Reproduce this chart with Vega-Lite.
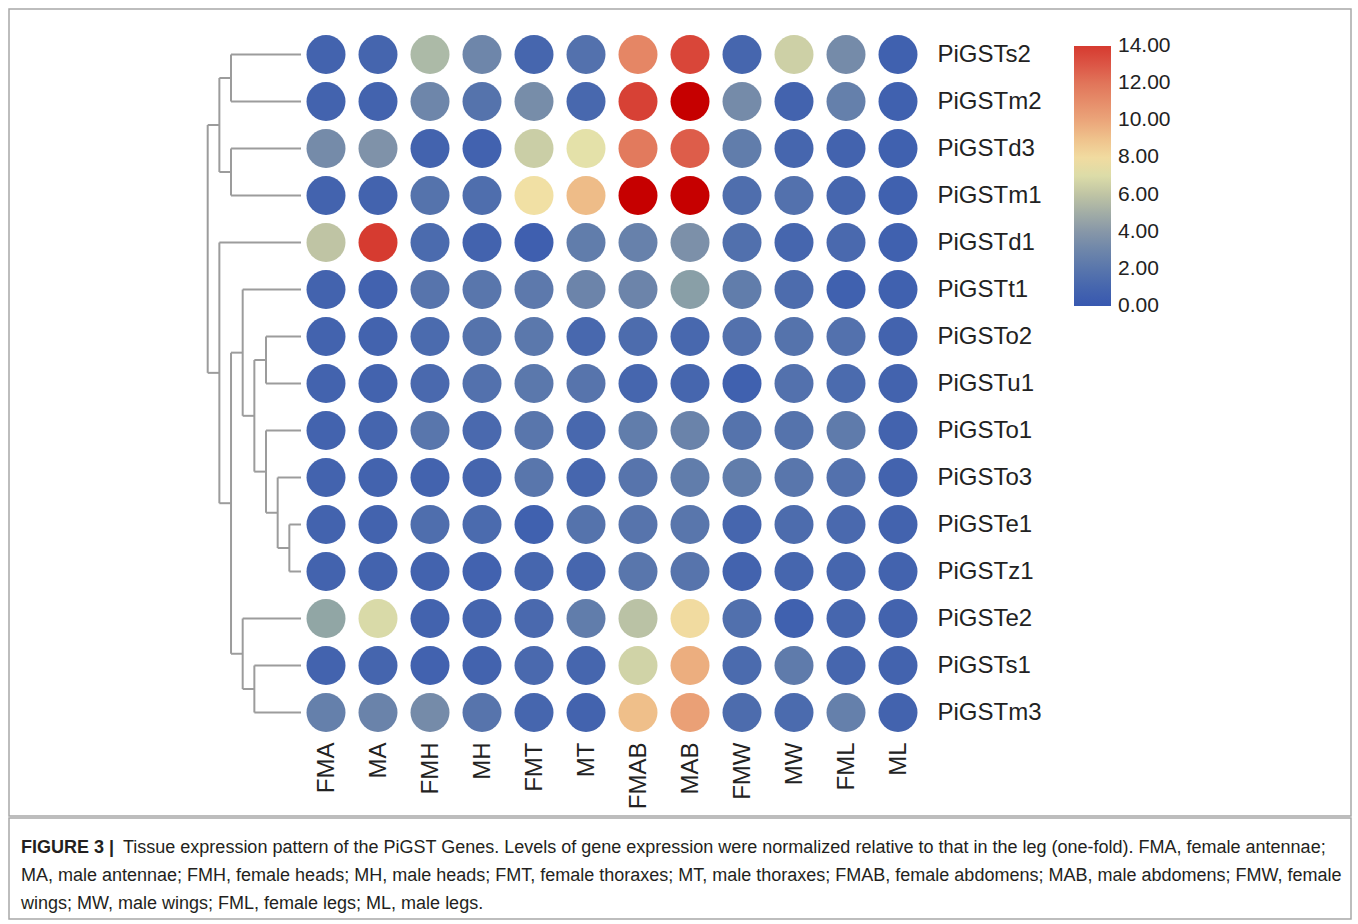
{
  "$schema": "https://vega.github.io/schema/vega-lite/v6.json",
  "padding": {"left": 8, "top": 8, "right": 0, "bottom": 0},
  "background": "white",
  "spacing": 0,
  "config": {
    "view": {"stroke": "#a8a8a8", "strokeWidth": 1.5},
    "font": "Liberation Sans"
  },
  "datasets": {
    "dendro": [
      {"x1": 0, "x2": 6, "y1": 0.5, "y2": 0.5},
      {"x1": 0, "x2": 6, "y1": 1.5, "y2": 1.5},
      {"x1": 0, "x2": 6, "y1": 2.5, "y2": 2.5},
      {"x1": 0, "x2": 6, "y1": 3.5, "y2": 3.5},
      {"x1": 0, "x2": 7, "y1": 4.5, "y2": 4.5},
      {"x1": 0, "x2": 5, "y1": 5.5, "y2": 5.5},
      {"x1": 0, "x2": 3, "y1": 6.5, "y2": 6.5},
      {"x1": 0, "x2": 3, "y1": 7.5, "y2": 7.5},
      {"x1": 0, "x2": 3, "y1": 8.5, "y2": 8.5},
      {"x1": 0, "x2": 2, "y1": 9.5, "y2": 9.5},
      {"x1": 0, "x2": 1, "y1": 10.5, "y2": 10.5},
      {"x1": 0, "x2": 1, "y1": 11.5, "y2": 11.5},
      {"x1": 0, "x2": 5, "y1": 12.5, "y2": 12.5},
      {"x1": 0, "x2": 4, "y1": 13.5, "y2": 13.5},
      {"x1": 0, "x2": 4, "y1": 14.5, "y2": 14.5},
      {"x1": 6, "x2": 7, "y1": 1.0, "y2": 1.0},
      {"x1": 6, "x2": 7, "y1": 3.0, "y2": 3.0},
      {"x1": 7, "x2": 8, "y1": 2.0, "y2": 2.0},
      {"x1": 1, "x2": 2, "y1": 11.0, "y2": 11.0},
      {"x1": 2, "x2": 3, "y1": 10.25, "y2": 10.25},
      {"x1": 3, "x2": 4, "y1": 9.375, "y2": 9.375},
      {"x1": 3, "x2": 4, "y1": 7.0, "y2": 7.0},
      {"x1": 4, "x2": 5, "y1": 8.1875, "y2": 8.1875},
      {"x1": 5, "x2": 6, "y1": 6.84375, "y2": 6.84375},
      {"x1": 4, "x2": 5, "y1": 14.0, "y2": 14.0},
      {"x1": 5, "x2": 6, "y1": 13.25, "y2": 13.25},
      {"x1": 6, "x2": 7, "y1": 10.046875, "y2": 10.046875},
      {"x1": 7, "x2": 8, "y1": 7.2734375, "y2": 7.2734375},
      {"x1": 6, "x2": 6, "y1": 0.5, "y2": 1.5},
      {"x1": 6, "x2": 6, "y1": 2.5, "y2": 3.5},
      {"x1": 7, "x2": 7, "y1": 1.0, "y2": 3.0},
      {"x1": 1, "x2": 1, "y1": 10.5, "y2": 11.5},
      {"x1": 2, "x2": 2, "y1": 9.5, "y2": 11.0},
      {"x1": 3, "x2": 3, "y1": 8.5, "y2": 10.25},
      {"x1": 3, "x2": 3, "y1": 6.5, "y2": 7.5},
      {"x1": 4, "x2": 4, "y1": 7.0, "y2": 9.375},
      {"x1": 5, "x2": 5, "y1": 5.5, "y2": 8.1875},
      {"x1": 4, "x2": 4, "y1": 13.5, "y2": 14.5},
      {"x1": 5, "x2": 5, "y1": 12.5, "y2": 14.0},
      {"x1": 6, "x2": 6, "y1": 6.84375, "y2": 13.25},
      {"x1": 7, "x2": 7, "y1": 4.5, "y2": 10.046875},
      {"x1": 8, "x2": 8, "y1": 2.0, "y2": 7.2734375}
    ],
    "expr": [
      {"gene": "PiGSTs2", "tissue": "FMA", "value": 0.8},
      {"gene": "PiGSTs2", "tissue": "MA", "value": 0.9},
      {"gene": "PiGSTs2", "tissue": "FMH", "value": 5.5},
      {"gene": "PiGSTs2", "tissue": "MH", "value": 3.0},
      {"gene": "PiGSTs2", "tissue": "FMT", "value": 1.0},
      {"gene": "PiGSTs2", "tissue": "MT", "value": 1.7},
      {"gene": "PiGSTs2", "tissue": "FMAB", "value": 11.3},
      {"gene": "PiGSTs2", "tissue": "MAB", "value": 13.6},
      {"gene": "PiGSTs2", "tissue": "FMW", "value": 1.0},
      {"gene": "PiGSTs2", "tissue": "MW", "value": 6.5},
      {"gene": "PiGSTs2", "tissue": "FML", "value": 3.3},
      {"gene": "PiGSTs2", "tissue": "ML", "value": 0.6},
      {"gene": "PiGSTm2", "tissue": "FMA", "value": 0.8},
      {"gene": "PiGSTm2", "tissue": "MA", "value": 0.8},
      {"gene": "PiGSTm2", "tissue": "FMH", "value": 3.0},
      {"gene": "PiGSTm2", "tissue": "MH", "value": 1.8},
      {"gene": "PiGSTm2", "tissue": "FMT", "value": 3.4},
      {"gene": "PiGSTm2", "tissue": "MT", "value": 1.1},
      {"gene": "PiGSTm2", "tissue": "FMAB", "value": 13.8},
      {"gene": "PiGSTm2", "tissue": "MAB", "value": 16.0},
      {"gene": "PiGSTm2", "tissue": "FMW", "value": 3.3},
      {"gene": "PiGSTm2", "tissue": "MW", "value": 0.8},
      {"gene": "PiGSTm2", "tissue": "FML", "value": 2.6},
      {"gene": "PiGSTm2", "tissue": "ML", "value": 0.6},
      {"gene": "PiGSTd3", "tissue": "FMA", "value": 3.3},
      {"gene": "PiGSTd3", "tissue": "MA", "value": 3.7},
      {"gene": "PiGSTd3", "tissue": "FMH", "value": 0.8},
      {"gene": "PiGSTd3", "tissue": "MH", "value": 0.7},
      {"gene": "PiGSTd3", "tissue": "FMT", "value": 6.4},
      {"gene": "PiGSTd3", "tissue": "MT", "value": 7.2},
      {"gene": "PiGSTd3", "tissue": "FMAB", "value": 11.8},
      {"gene": "PiGSTd3", "tissue": "MAB", "value": 12.8},
      {"gene": "PiGSTd3", "tissue": "FMW", "value": 2.4},
      {"gene": "PiGSTd3", "tissue": "MW", "value": 1.0},
      {"gene": "PiGSTd3", "tissue": "FML", "value": 0.8},
      {"gene": "PiGSTd3", "tissue": "ML", "value": 0.6},
      {"gene": "PiGSTm1", "tissue": "FMA", "value": 0.8},
      {"gene": "PiGSTm1", "tissue": "MA", "value": 0.8},
      {"gene": "PiGSTm1", "tissue": "FMH", "value": 1.8},
      {"gene": "PiGSTm1", "tissue": "MH", "value": 1.5},
      {"gene": "PiGSTm1", "tissue": "FMT", "value": 7.8},
      {"gene": "PiGSTm1", "tissue": "MT", "value": 9.2},
      {"gene": "PiGSTm1", "tissue": "FMAB", "value": 16.5},
      {"gene": "PiGSTm1", "tissue": "MAB", "value": 15.5},
      {"gene": "PiGSTm1", "tissue": "FMW", "value": 1.5},
      {"gene": "PiGSTm1", "tissue": "MW", "value": 1.7},
      {"gene": "PiGSTm1", "tissue": "FML", "value": 1.0},
      {"gene": "PiGSTm1", "tissue": "ML", "value": 0.6},
      {"gene": "PiGSTd1", "tissue": "FMA", "value": 6.0},
      {"gene": "PiGSTd1", "tissue": "MA", "value": 14.0},
      {"gene": "PiGSTd1", "tissue": "FMH", "value": 1.3},
      {"gene": "PiGSTd1", "tissue": "MH", "value": 0.8},
      {"gene": "PiGSTd1", "tissue": "FMT", "value": 0.5},
      {"gene": "PiGSTd1", "tissue": "MT", "value": 2.4},
      {"gene": "PiGSTd1", "tissue": "FMAB", "value": 2.7},
      {"gene": "PiGSTd1", "tissue": "MAB", "value": 3.6},
      {"gene": "PiGSTd1", "tissue": "FMW", "value": 1.6},
      {"gene": "PiGSTd1", "tissue": "MW", "value": 1.0},
      {"gene": "PiGSTd1", "tissue": "FML", "value": 1.2},
      {"gene": "PiGSTd1", "tissue": "ML", "value": 0.6},
      {"gene": "PiGSTt1", "tissue": "FMA", "value": 0.8},
      {"gene": "PiGSTt1", "tissue": "MA", "value": 0.7},
      {"gene": "PiGSTt1", "tissue": "FMH", "value": 1.9},
      {"gene": "PiGSTt1", "tissue": "MH", "value": 2.0},
      {"gene": "PiGSTt1", "tissue": "FMT", "value": 2.2},
      {"gene": "PiGSTt1", "tissue": "MT", "value": 2.9},
      {"gene": "PiGSTt1", "tissue": "FMAB", "value": 2.9},
      {"gene": "PiGSTt1", "tissue": "MAB", "value": 4.3},
      {"gene": "PiGSTt1", "tissue": "FMW", "value": 2.4},
      {"gene": "PiGSTt1", "tissue": "MW", "value": 1.4},
      {"gene": "PiGSTt1", "tissue": "FML", "value": 0.6},
      {"gene": "PiGSTt1", "tissue": "ML", "value": 0.6},
      {"gene": "PiGSTo2", "tissue": "FMA", "value": 0.8},
      {"gene": "PiGSTo2", "tissue": "MA", "value": 0.8},
      {"gene": "PiGSTo2", "tissue": "FMH", "value": 1.3},
      {"gene": "PiGSTo2", "tissue": "MH", "value": 1.8},
      {"gene": "PiGSTo2", "tissue": "FMT", "value": 2.1},
      {"gene": "PiGSTo2", "tissue": "MT", "value": 1.1},
      {"gene": "PiGSTo2", "tissue": "FMAB", "value": 1.4},
      {"gene": "PiGSTo2", "tissue": "MAB", "value": 1.1},
      {"gene": "PiGSTo2", "tissue": "FMW", "value": 1.7},
      {"gene": "PiGSTo2", "tissue": "MW", "value": 1.8},
      {"gene": "PiGSTo2", "tissue": "FML", "value": 1.7},
      {"gene": "PiGSTo2", "tissue": "ML", "value": 0.8},
      {"gene": "PiGSTu1", "tissue": "FMA", "value": 0.8},
      {"gene": "PiGSTu1", "tissue": "MA", "value": 0.8},
      {"gene": "PiGSTu1", "tissue": "FMH", "value": 1.2},
      {"gene": "PiGSTu1", "tissue": "MH", "value": 1.7},
      {"gene": "PiGSTu1", "tissue": "FMT", "value": 2.1},
      {"gene": "PiGSTu1", "tissue": "MT", "value": 1.9},
      {"gene": "PiGSTu1", "tissue": "FMAB", "value": 1.0},
      {"gene": "PiGSTu1", "tissue": "MAB", "value": 1.0},
      {"gene": "PiGSTu1", "tissue": "FMW", "value": 0.6},
      {"gene": "PiGSTu1", "tissue": "MW", "value": 1.7},
      {"gene": "PiGSTu1", "tissue": "FML", "value": 1.3},
      {"gene": "PiGSTu1", "tissue": "ML", "value": 0.8},
      {"gene": "PiGSTo1", "tissue": "FMA", "value": 0.8},
      {"gene": "PiGSTo1", "tissue": "MA", "value": 0.9},
      {"gene": "PiGSTo1", "tissue": "FMH", "value": 2.0},
      {"gene": "PiGSTo1", "tissue": "MH", "value": 1.2},
      {"gene": "PiGSTo1", "tissue": "FMT", "value": 2.0},
      {"gene": "PiGSTo1", "tissue": "MT", "value": 1.1},
      {"gene": "PiGSTo1", "tissue": "FMAB", "value": 2.4},
      {"gene": "PiGSTo1", "tissue": "MAB", "value": 2.8},
      {"gene": "PiGSTo1", "tissue": "FMW", "value": 1.8},
      {"gene": "PiGSTo1", "tissue": "MW", "value": 1.8},
      {"gene": "PiGSTo1", "tissue": "FML", "value": 2.3},
      {"gene": "PiGSTo1", "tissue": "ML", "value": 0.8},
      {"gene": "PiGSTo3", "tissue": "FMA", "value": 0.8},
      {"gene": "PiGSTo3", "tissue": "MA", "value": 0.8},
      {"gene": "PiGSTo3", "tissue": "FMH", "value": 0.8},
      {"gene": "PiGSTo3", "tissue": "MH", "value": 0.9},
      {"gene": "PiGSTo3", "tissue": "FMT", "value": 2.0},
      {"gene": "PiGSTo3", "tissue": "MT", "value": 1.0},
      {"gene": "PiGSTo3", "tissue": "FMAB", "value": 1.9},
      {"gene": "PiGSTo3", "tissue": "MAB", "value": 2.4},
      {"gene": "PiGSTo3", "tissue": "FMW", "value": 2.4},
      {"gene": "PiGSTo3", "tissue": "MW", "value": 2.0},
      {"gene": "PiGSTo3", "tissue": "FML", "value": 1.7},
      {"gene": "PiGSTo3", "tissue": "ML", "value": 0.8},
      {"gene": "PiGSTe1", "tissue": "FMA", "value": 0.8},
      {"gene": "PiGSTe1", "tissue": "MA", "value": 0.8},
      {"gene": "PiGSTe1", "tissue": "FMH", "value": 1.5},
      {"gene": "PiGSTe1", "tissue": "MH", "value": 1.3},
      {"gene": "PiGSTe1", "tissue": "FMT", "value": 0.6},
      {"gene": "PiGSTe1", "tissue": "MT", "value": 1.8},
      {"gene": "PiGSTe1", "tissue": "FMAB", "value": 1.9},
      {"gene": "PiGSTe1", "tissue": "MAB", "value": 2.0},
      {"gene": "PiGSTe1", "tissue": "FMW", "value": 1.0},
      {"gene": "PiGSTe1", "tissue": "MW", "value": 1.4},
      {"gene": "PiGSTe1", "tissue": "FML", "value": 1.2},
      {"gene": "PiGSTe1", "tissue": "ML", "value": 0.8},
      {"gene": "PiGSTz1", "tissue": "FMA", "value": 0.8},
      {"gene": "PiGSTz1", "tissue": "MA", "value": 0.8},
      {"gene": "PiGSTz1", "tissue": "FMH", "value": 0.8},
      {"gene": "PiGSTz1", "tissue": "MH", "value": 0.7},
      {"gene": "PiGSTz1", "tissue": "FMT", "value": 1.0},
      {"gene": "PiGSTz1", "tissue": "MT", "value": 1.0},
      {"gene": "PiGSTz1", "tissue": "FMAB", "value": 2.0},
      {"gene": "PiGSTz1", "tissue": "MAB", "value": 1.9},
      {"gene": "PiGSTz1", "tissue": "FMW", "value": 0.8},
      {"gene": "PiGSTz1", "tissue": "MW", "value": 1.0},
      {"gene": "PiGSTz1", "tissue": "FML", "value": 1.0},
      {"gene": "PiGSTz1", "tissue": "ML", "value": 0.8},
      {"gene": "PiGSTe2", "tissue": "FMA", "value": 4.6},
      {"gene": "PiGSTe2", "tissue": "MA", "value": 6.9},
      {"gene": "PiGSTe2", "tissue": "FMH", "value": 0.8},
      {"gene": "PiGSTe2", "tissue": "MH", "value": 0.9},
      {"gene": "PiGSTe2", "tissue": "FMT", "value": 1.2},
      {"gene": "PiGSTe2", "tissue": "MT", "value": 2.4},
      {"gene": "PiGSTe2", "tissue": "FMAB", "value": 5.9},
      {"gene": "PiGSTe2", "tissue": "MAB", "value": 8.0},
      {"gene": "PiGSTe2", "tissue": "FMW", "value": 1.6},
      {"gene": "PiGSTe2", "tissue": "MW", "value": 0.6},
      {"gene": "PiGSTe2", "tissue": "FML", "value": 1.0},
      {"gene": "PiGSTe2", "tissue": "ML", "value": 0.8},
      {"gene": "PiGSTs1", "tissue": "FMA", "value": 0.8},
      {"gene": "PiGSTs1", "tissue": "MA", "value": 0.9},
      {"gene": "PiGSTs1", "tissue": "FMH", "value": 0.7},
      {"gene": "PiGSTs1", "tissue": "MH", "value": 0.8},
      {"gene": "PiGSTs1", "tissue": "FMT", "value": 1.2},
      {"gene": "PiGSTs1", "tissue": "MT", "value": 1.0},
      {"gene": "PiGSTs1", "tissue": "FMAB", "value": 6.6},
      {"gene": "PiGSTs1", "tissue": "MAB", "value": 9.7},
      {"gene": "PiGSTs1", "tissue": "FMW", "value": 1.3},
      {"gene": "PiGSTs1", "tissue": "MW", "value": 2.3},
      {"gene": "PiGSTs1", "tissue": "FML", "value": 1.0},
      {"gene": "PiGSTs1", "tissue": "ML", "value": 0.8},
      {"gene": "PiGSTm3", "tissue": "FMA", "value": 2.6},
      {"gene": "PiGSTm3", "tissue": "MA", "value": 2.8},
      {"gene": "PiGSTm3", "tissue": "FMH", "value": 3.3},
      {"gene": "PiGSTm3", "tissue": "MH", "value": 1.9},
      {"gene": "PiGSTm3", "tissue": "FMT", "value": 1.0},
      {"gene": "PiGSTm3", "tissue": "MT", "value": 0.8},
      {"gene": "PiGSTm3", "tissue": "FMAB", "value": 9.1},
      {"gene": "PiGSTm3", "tissue": "MAB", "value": 10.2},
      {"gene": "PiGSTm3", "tissue": "FMW", "value": 1.4},
      {"gene": "PiGSTm3", "tissue": "MW", "value": 1.3},
      {"gene": "PiGSTm3", "tissue": "FML", "value": 2.6},
      {"gene": "PiGSTm3", "tissue": "ML", "value": 0.8}
    ],
    "caption": [
      {"line": 1, "part": "bold", "text": "FIGURE 3 |"},
      {"line": 1, "part": "rest", "text": "Tissue expression pattern of the PiGST Genes. Levels of gene expression were normalized relative to that in the leg (one-fold). FMA, female antennae;"},
      {"line": 2, "part": "body", "text": "MA, male antennae; FMH, female heads; MH, male heads; FMT, female thoraxes; MT, male thoraxes; FMAB, female abdomens; MAB, male abdomens; FMW, female"},
      {"line": 3, "part": "body", "text": "wings; MW, male wings; FML, female legs; ML, male legs."}
    ]
  },
  "vconcat": [
    {
      "width": 1342,
      "height": 807,
      "resolve": {"scale": {"x": "independent", "y": "independent"}, "axis": {"x": "independent", "y": "independent"}},
      "layer": [
        {
          "data": {"name": "dendro"},
          "mark": {"type": "rule", "color": "#9c9c9c", "strokeWidth": 2},
          "encoding": {
            "x": {"field": "x1", "type": "quantitative", "scale": {"domain": [0, 8], "range": [292, 198.7], "nice": false, "zero": false}, "axis": null},
            "x2": {"field": "x2"},
            "y": {"field": "y1", "type": "quantitative", "scale": {"domain": [0, 15], "range": [22, 727], "nice": false, "zero": false}, "axis": null},
            "y2": {"field": "y2"}
          }
        },
        {
          "data": {"name": "expr"},
          "mark": {"type": "circle", "size": 1520, "opacity": 1},
          "encoding": {
            "x": {
              "field": "tissue", "type": "nominal",
              "sort": ["FMA", "MA", "FMH", "MH", "FMT", "MT", "FMAB", "MAB", "FMW", "MW", "FML", "ML"],
              "scale": {"type": "point", "range": [291, 915], "padding": 0.5},
              "axis": {"orient": "bottom", "offset": -74, "title": null, "labelAngle": -90, "labelFont": "Liberation Sans", "labelFontSize": 24, "labelColor": "#222222", "labelPadding": 0, "ticks": false, "tickSize": 0, "domain": false, "grid": false}
            },
            "y": {
              "field": "gene", "type": "nominal",
              "sort": ["PiGSTs2", "PiGSTm2", "PiGSTd3", "PiGSTm1", "PiGSTd1", "PiGSTt1", "PiGSTo2", "PiGSTu1", "PiGSTo1", "PiGSTo3", "PiGSTe1", "PiGSTz1", "PiGSTe2", "PiGSTs1", "PiGSTm3"],
              "scale": {"type": "point", "range": [22, 727], "padding": 0.5},
              "axis": {"orient": "right", "offset": -414, "title": null, "labelFont": "Liberation Sans", "labelFontSize": 24, "labelColor": "#222222", "labelPadding": 0, "ticks": false, "tickSize": 0, "domain": false, "grid": false}
            },
            "color": {
              "condition": {"test": "datum.value > 14", "value": "#c60000"},
              "field": "value", "type": "quantitative",
              "scale": {
                "domain": [-0.02, 1, 2, 3, 4, 5, 6, 7, 7.5, 8, 9, 10, 11, 12, 13, 14.02],
                "range": ["#3858b0", "#4666ae", "#5976ac", "#6e86aa", "#8797a8", "#a2ada6", "#bfc4a4", "#dcdca8", "#f0e8aa", "#f1dba0", "#efc28c", "#eba57a", "#e68d6a", "#e1755a", "#dc5646", "#d63a30"],
                "clamp": true
              },
              "legend": {
                "orient": "none", "legendX": 1065, "legendY": 37, "direction": "vertical",
                "gradientLength": 260, "gradientThickness": 37, "gradientStrokeWidth": 0,
                "title": null, "values": [0, 2, 4, 6, 8, 10, 12, 14], "format": ".2f",
                "labelFont": "Liberation Sans", "labelFontSize": 21, "labelColor": "#222222", "labelOffset": 7, "labelBaseline": "middle", "labelOverlap": false, "padding": 0
              }
            }
          }
        }
      ]
    },
    {
      "width": 1342,
      "height": 101,
      "data": {"name": "caption"},
      "encoding": {
        "y": {"field": "line", "type": "ordinal", "scale": {"type": "point", "range": [30, 86], "padding": 0}, "axis": null},
        "text": {"field": "text"}
      },
      "layer": [
        {
          "transform": [{"filter": "datum.part === 'bold'"}],
          "mark": {"type": "text", "align": "left", "baseline": "middle", "font": "Liberation Sans", "fontSize": 18, "fontWeight": "bold", "color": "#231f20"},
          "encoding": {"x": {"value": 12}}
        },
        {
          "transform": [{"filter": "datum.part === 'rest'"}],
          "mark": {"type": "text", "align": "left", "baseline": "middle", "font": "Liberation Sans", "fontSize": 18, "color": "#231f20"},
          "encoding": {"x": {"value": 114}}
        },
        {
          "transform": [{"filter": "datum.part === 'body'"}],
          "mark": {"type": "text", "align": "left", "baseline": "middle", "font": "Liberation Sans", "fontSize": 18, "color": "#231f20"},
          "encoding": {"x": {"value": 12}}
        }
      ]
    }
  ]
}
